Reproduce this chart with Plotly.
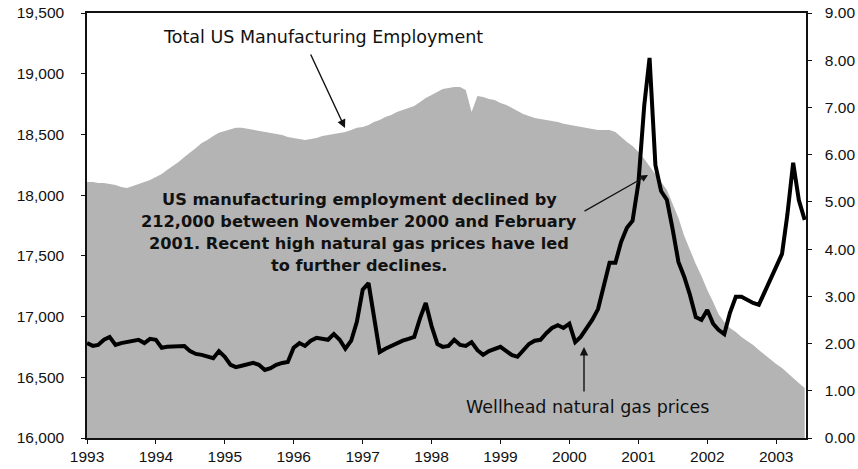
import plotly.graph_objects as go
import pandas as pd

# Monthly data, Jan 1993 .. Jun 2003
months = pd.date_range("1993-01-01", periods=126, freq="MS")

employment = [
    18109, 18109, 18100, 18100, 18092, 18084, 18067, 18059, 18076, 18092, 18109, 18125,  # 1993
    18150, 18175, 18208, 18241, 18273, 18315, 18348, 18389, 18430, 18455, 18488, 18513,  # 1994
    18529, 18545, 18554, 18554, 18545, 18537, 18529, 18521, 18513, 18504, 18496, 18479,  # 1995
    18471, 18463, 18455, 18463, 18471, 18488, 18496, 18504, 18513, 18521, 18537, 18554,  # 1996
    18562, 18578, 18603, 18619, 18644, 18661, 18685, 18702, 18718, 18735, 18768, 18801,  # 1997
    18825, 18850, 18875, 18883, 18891, 18891, 18866, 18685, 18817, 18809, 18792, 18784,  # 1998
    18759, 18743, 18718, 18693, 18669, 18652, 18636, 18628, 18619, 18611, 18603, 18587,  # 1999
    18578, 18570, 18562, 18554, 18545, 18537, 18537, 18537, 18521, 18479, 18438, 18405,  # 2000
    18356, 18298, 18241, 18175, 18109, 18043, 17927, 17812, 17664, 17549, 17433, 17334,  # 2001
    17219, 17120, 17021, 16955, 16906, 16873, 16832, 16799, 16766, 16725, 16684, 16643,  # 2002
    16610, 16577, 16535, 16494, 16453, 16412,                                            # 2003
]

gas_price = [
    2.01, 1.95, 1.97, 2.08, 2.14, 1.97, 2.01, 2.03, 2.06, 2.08, 2.01, 2.10,  # 1993
    2.08, 1.91, 1.93, 1.93, 1.95, 1.95, 1.84, 1.78, 1.76, 1.72, 1.69, 1.84,  # 1994
    1.72, 1.55, 1.50, 1.53, 1.57, 1.59, 1.55, 1.44, 1.48, 1.55, 1.59, 1.61,  # 1995
    1.91, 2.01, 1.95, 2.06, 2.12, 2.10, 2.08, 2.20, 2.08, 1.89, 2.06, 2.46,  # 1996
    3.14, 3.28, 2.61, 1.82, 1.89, 1.95, 1.99, 2.06, 2.10, 2.14, 2.54, 2.86,  # 1997
    2.37, 1.99, 1.93, 1.95, 2.08, 1.97, 1.95, 2.03, 1.86, 1.76, 1.84, 1.89,  # 1998
    1.93, 1.84, 1.76, 1.72, 1.86, 1.99, 2.06, 2.08, 2.22, 2.33, 2.39, 2.33,  # 1999
    2.42, 2.03, 2.14, 2.31, 2.50, 2.73, 3.24, 3.71, 3.71, 4.15, 4.45, 4.60,  # 2000
    5.40, 7.05, 8.05, 5.78, 5.23, 5.04, 4.43, 3.73, 3.41, 3.03, 2.56, 2.50,  # 2001
    2.71, 2.42, 2.29, 2.20, 2.65, 2.99, 2.99, 2.92, 2.86, 2.82, 3.09, 3.35,  # 2002
    3.64, 3.90, 4.72, 5.83, 5.04, 4.62,                                      # 2003
]

year_ticks = [str(y) for y in range(1993, 2004)]
left_ticks = list(range(16000, 19501, 500))
right_ticks = [float(v) for v in range(0, 10)]

note_lines = [
    "US manufacturing employment declined by",
    "212,000 between November 2000 and February",
    "2001. Recent high natural gas prices have led",
    "to further declines.",
]

W, H = 858, 469
# plot area in window pixels: x 87..806, y 13..438
L, R, T, B = 87, 806, 13, 438
def px(x):
    return (x - L) / (R - L)
def py(y):
    return (B - y) / (B - T)

fig = go.Figure()
fig.add_trace(go.Scatter(
    x=months, y=employment, mode="lines", fill="tozeroy",
    line=dict(width=0, color="#b4b4b4"), fillcolor="#b4b4b4",
    yaxis="y", hoverinfo="skip", showlegend=False,
))
fig.add_trace(go.Scatter(
    x=months, y=gas_price, mode="lines",
    line=dict(width=4, color="black"),
    yaxis="y2", showlegend=False,
))

tickfont = dict(family="Liberation Sans, Arial", size=15.5, color="#111")
textfont = dict(family="DejaVu Sans", size=17.5, color="#111")

annotations = []
annotations.append(dict(
    xref="paper", yref="paper", x=px(323), y=py(37), text="Total US Manufacturing Employment",
    showarrow=False, font=textfont, xanchor="center", yanchor="middle"))
annotations.append(dict(
    xref="paper", yref="paper", x=px(345), y=py(128), text="",
    showarrow=True, ax=310 - 345, ay=53 - 128, arrowhead=2, arrowsize=1.2,
    arrowwidth=1.4, arrowcolor="#111"))
line_y = [200, 221.7, 243.3, 265]
for txt, yy in zip(note_lines, line_y):
    annotations.append(dict(
        xref="paper", yref="paper", x=px(359), y=py(yy), text="<b>" + txt + "</b>",
        showarrow=False, font=dict(family="DejaVu Sans", size=16.2, color="#111"),
        xanchor="center", yanchor="middle"))
annotations.append(dict(
    xref="paper", yref="paper", x=px(648), y=py(175), text="",
    showarrow=True, ax=583 - 648, ay=212 - 175, arrowhead=2, arrowsize=1.2,
    arrowwidth=1.2, arrowcolor="#111"))
annotations.append(dict(
    xref="paper", yref="paper", x=px(587), y=py(407), text="Wellhead natural gas prices",
    showarrow=False, font=textfont, xanchor="center", yanchor="middle"))
annotations.append(dict(
    xref="paper", yref="paper", x=px(584), y=py(347), text="",
    showarrow=True, ax=0, ay=393 - 347, arrowhead=2, arrowsize=1.2,
    arrowwidth=1.4, arrowcolor="#111"))

fig.update_layout(
    width=W, height=H,
    margin=dict(l=L, r=W - R, t=T, b=H - B, autoexpand=False),
    paper_bgcolor="white", plot_bgcolor="white",
    showlegend=False,
    annotations=annotations,
    xaxis=dict(
        type="date", range=["1993-01-01", "2003-06-08"],
        tickvals=[f"{y}-01-01" for y in year_ticks], ticktext=year_ticks,
        showgrid=False, zeroline=False, automargin=False,
        showline=True, linecolor="#111", linewidth=1.5, mirror=True,
        ticks="outside", ticklen=4, tickcolor="#111", tickwidth=1,
        tickfont=tickfont,
    ),
    yaxis=dict(
        range=[16000, 19500], tickvals=left_ticks, tickformat=",",
        showgrid=False, zeroline=False, automargin=False,
        showline=True, linecolor="#111", linewidth=1.5,
        ticks="outside", ticklen=4, tickcolor="#111",
        tickfont=tickfont, ticklabelstandoff=14,
    ),
    yaxis2=dict(
        range=[0, 9], tickvals=right_ticks, tickformat=".2f",
        overlaying="y", side="right", anchor="x",
        showgrid=False, zeroline=False, automargin=False,
        showline=True, linecolor="#111", linewidth=1.5,
        ticks="outside", ticklen=4, tickcolor="#111",
        tickfont=tickfont, ticklabelstandoff=10,
    ),
)

# remove the browser's default 8px page margin so the figure fills the window
fig.write_html(
    "out.html",
    config={"displayModeBar": False},
    post_script="document.body.style.margin='0px';",
)
